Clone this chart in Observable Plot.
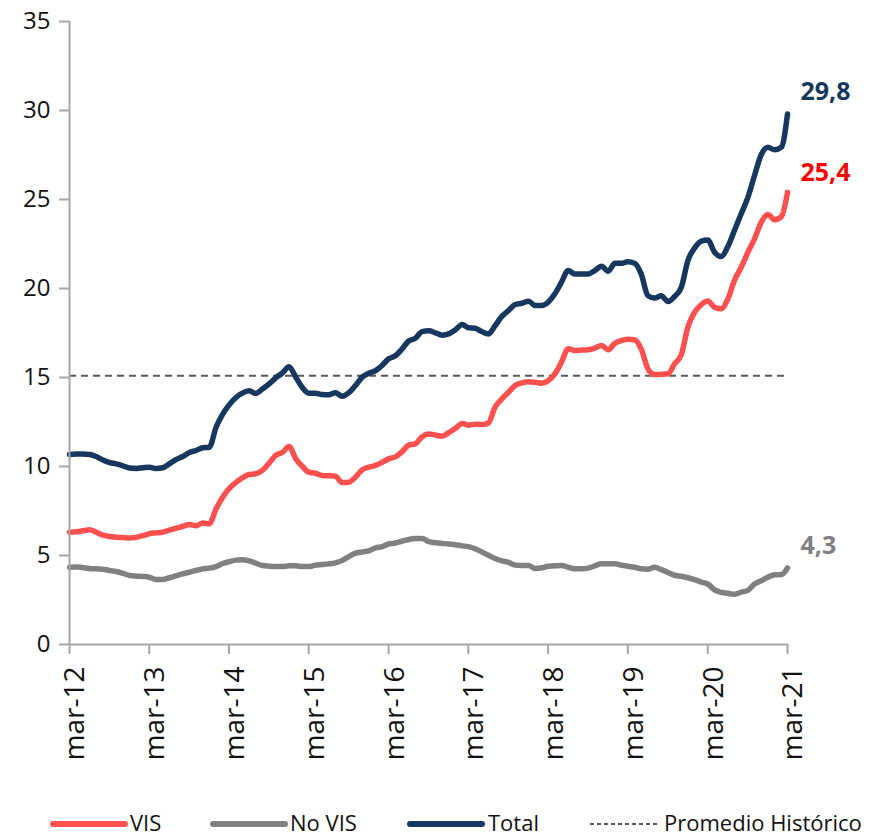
<!DOCTYPE html>
<html>
<head>
<meta charset="utf-8">
<script src="https://cdn.jsdelivr.net/npm/d3@7"></script>
<script src="https://cdn.jsdelivr.net/npm/@observablehq/plot@0.6"></script>
<style>
  body { margin: 0; background: #fff; font-family: "Open Sans", sans-serif; }
  #wrap { width: 873px; }
  #legend { position: relative; width: 873px; height: 37px; }
  #legend svg { position: absolute; left: 0; top: 0; }
</style>
</head>
<body>
<div id="wrap">
  <div id="chart"></div>
  <div id="legend"></div>
</div>
<script>
// Monthly dates: mar-12 .. mar-21
const months = d3.utcMonth.range(new Date(Date.UTC(2012, 2, 1)), new Date(Date.UTC(2021, 3, 1)));
const tickLabels = ["mar-12","mar-13","mar-14","mar-15","mar-16","mar-17","mar-18","mar-19","mar-20","mar-21"];
const yTicks = [0, 5, 10, 15, 20, 25, 30, 35];
const promedioHistorico = 15.1;

const total = [
  10.67, 10.7, 10.7, 10.68, 10.56, 10.37, 10.22, 10.15, 10.04, 9.91, 9.89, 9.93,
  9.96, 9.89, 9.93, 10.15, 10.39, 10.56, 10.79, 10.9, 11.05, 11.08, 12.2, 12.96,
  13.45, 13.86, 14.12, 14.25, 14.1, 14.35, 14.64, 14.98, 15.26, 15.6, 15.02, 14.42,
  14.12, 14.12, 14.04, 14.03, 14.14, 13.95, 14.15, 14.55, 15.02, 15.24, 15.39, 15.69,
  16.05, 16.22, 16.6, 17.05, 17.2, 17.58, 17.62, 17.51, 17.38, 17.45, 17.68, 17.98,
  17.79, 17.77, 17.58, 17.45, 17.9, 18.43, 18.76, 19.1, 19.17, 19.29, 19.04, 19.04,
  19.23, 19.7, 20.35, 21.01, 20.82, 20.82, 20.82, 21.01, 21.25, 20.97, 21.42, 21.42,
  21.5, 21.42, 20.82, 19.6, 19.46, 19.59, 19.27, 19.55, 20.07, 21.57, 22.28, 22.66,
  22.72, 22.04, 21.8, 22.36, 23.26, 24.2, 25.13, 26.35, 27.53, 27.94, 27.79, 27.94,
  29.8
];
const vis = [
  6.31, 6.33, 6.39, 6.44, 6.31, 6.14, 6.07, 6.03, 6.01, 5.99, 6.03, 6.12,
  6.22, 6.27, 6.31, 6.42, 6.53, 6.63, 6.74, 6.67, 6.82, 6.78, 7.62, 8.28,
  8.75, 9.1, 9.36, 9.55, 9.59, 9.78, 10.19, 10.62, 10.8, 11.12, 10.43, 10.0,
  9.68, 9.62, 9.49, 9.48, 9.46, 9.1, 9.12, 9.4, 9.81, 9.96, 10.06, 10.24,
  10.43, 10.54, 10.82, 11.2, 11.27, 11.67, 11.83, 11.77, 11.7, 11.9, 12.15, 12.42,
  12.32, 12.38, 12.36, 12.45, 13.33, 13.8, 14.17, 14.55, 14.7, 14.76, 14.73, 14.68,
  14.82, 15.2, 15.86, 16.61, 16.52, 16.54, 16.56, 16.65, 16.8, 16.56, 16.93, 17.08,
  17.15, 17.12, 16.61, 15.49, 15.17, 15.18, 15.21, 15.77, 16.29, 17.83, 18.67, 19.1,
  19.3, 18.95, 18.86, 19.42, 20.45, 21.2, 22.04, 22.79, 23.73, 24.16, 23.86, 24.04,
  25.4
];
const noVis = [
  4.34, 4.36, 4.32, 4.27, 4.25, 4.23, 4.16, 4.1, 4.0, 3.88, 3.84, 3.82,
  3.78, 3.65, 3.65, 3.75, 3.86, 3.97, 4.06, 4.16, 4.25, 4.29, 4.38, 4.55,
  4.65, 4.74, 4.76, 4.7, 4.57, 4.44, 4.4, 4.38, 4.38, 4.42, 4.42, 4.38,
  4.38, 4.46, 4.49, 4.53, 4.59, 4.72, 4.94, 5.13, 5.2, 5.26, 5.43, 5.5,
  5.65, 5.7, 5.8, 5.9, 5.95, 5.96, 5.78, 5.72, 5.68, 5.65, 5.6, 5.54,
  5.5, 5.38, 5.2, 5.01, 4.83, 4.7, 4.62, 4.46, 4.44, 4.44, 4.27, 4.31,
  4.4, 4.42, 4.44, 4.34, 4.25, 4.25, 4.29, 4.42, 4.53, 4.53, 4.53, 4.45,
  4.4, 4.34, 4.25, 4.23, 4.34, 4.21, 4.05, 3.89, 3.83, 3.75, 3.64, 3.5,
  3.4, 3.07, 2.93, 2.88, 2.82, 2.94, 3.04, 3.4, 3.58, 3.78, 3.92, 3.93,
  4.3
];

const seriesNames = ["VIS", "No VIS", "Total"];
const seriesColors = ["#FF5050", "#808080", "#17375E"];
const labelColors = ["#FF0000", "#808080", "#17375E"];
const seriesValues = [vis, noVis, total];

const rows = [];
seriesNames.forEach((name, s) => {
  seriesValues[s].forEach((v, i) => rows.push({serie: name, date: months[i], value: v}));
});
const lastRows = seriesNames.map((name, s) => ({serie: name, date: months[months.length - 1], value: seriesValues[s][seriesValues[s].length - 1], color: labelColors[s]}));
const tickDates = tickLabels.map((_, i) => months[i * 12]);
const fmt = v => v.toFixed(1).replace(".", ",");

const chart = Plot.plot({
  width: 873,
  height: 800,
  marginLeft: 69,
  marginRight: 86,
  marginTop: 21,
  marginBottom: 156,
  style: {fontFamily: "'Open Sans', sans-serif", background: "#fff", color: "#111", overflow: "visible"},
  x: {type: "utc", domain: [months[0], months[months.length - 1]]},
  y: {domain: [0, 35]},
  color: {domain: seriesNames, range: seriesColors},
  marks: [
    Plot.ruleY([promedioHistorico], {stroke: "#595959", strokeWidth: 2, strokeDasharray: "7,5"}),
    Plot.line(rows, {x: "date", y: "value", z: "serie", stroke: "serie", strokeWidth: 5.5, curve: "monotone-x", strokeLinecap: "round", strokeLinejoin: "round"}),
    Plot.ruleY([0], {stroke: "#A6A6A6", strokeWidth: 2}),
    Plot.ruleX([months[0]], {stroke: "#A6A6A6", strokeWidth: 2}),
    Plot.axisY({ticks: yTicks, tickSize: 10, tickPadding: 9, stroke: "#A6A6A6", strokeWidth: 2, fontSize: 24, fill: "#111", tickFormat: d => String(d), label: null}),
    Plot.axisX({ticks: tickDates, tickSize: 10, stroke: "#A6A6A6", strokeWidth: 2, tickFormat: () => "", label: null}),
    Plot.axisX({ticks: tickDates, tickSize: 0, tickPadding: 22, tickRotate: -90, fontSize: 28, fill: "#111", dx: 6, tickFormat: (d, i) => tickLabels[i], label: null}),
    Plot.text(lastRows.filter(d => d.serie === "Total"), {x: "date", y: "value", text: d => fmt(d.value), fill: "color", textAnchor: "start", dx: 13, dy: -22, fontSize: 25, fontWeight: "bold"}),
    Plot.text(lastRows.filter(d => d.serie === "VIS"), {x: "date", y: "value", text: d => fmt(d.value), fill: "color", textAnchor: "start", dx: 13, dy: -19, fontSize: 25, fontWeight: "bold"}),
    Plot.text(lastRows.filter(d => d.serie === "No VIS"), {x: "date", y: "value", text: d => fmt(d.value), fill: "color", textAnchor: "start", dx: 13, dy: -22, fontSize: 25, fontWeight: "bold"})
  ]
});
document.getElementById("chart").appendChild(chart);

// Legend below the chart
const legendItems = [
  {label: "VIS", color: "#FF5050", x1: 53, x2: 125, tx: 130, dash: null, w: 6},
  {label: "No VIS", color: "#808080", x1: 213, x2: 285, tx: 290, dash: null, w: 6},
  {label: "Total", color: "#17375E", x1: 410, x2: 482, tx: 488, dash: null, w: 6},
  {label: "Promedio Histórico", color: "#595959", x1: 590, x2: 657, tx: 664, dash: "4,3", w: 2}
];
const lsvg = d3.select("#legend").append("svg").attr("width", 873).attr("height", 37)
  .style("font-family", "'Open Sans', sans-serif");
const ly = 24;
legendItems.forEach(it => {
  lsvg.append("line").attr("x1", it.x1).attr("x2", it.x2).attr("y1", ly).attr("y2", ly)
    .attr("stroke", it.color).attr("stroke-width", it.w)
    .attr("stroke-linecap", it.dash ? "butt" : "round")
    .attr("stroke-dasharray", it.dash);
  lsvg.append("text").attr("x", it.tx).attr("y", 31)
    .attr("font-size", 22).attr("fill", "#111").text(it.label);
});
</script>
</body>
</html>
